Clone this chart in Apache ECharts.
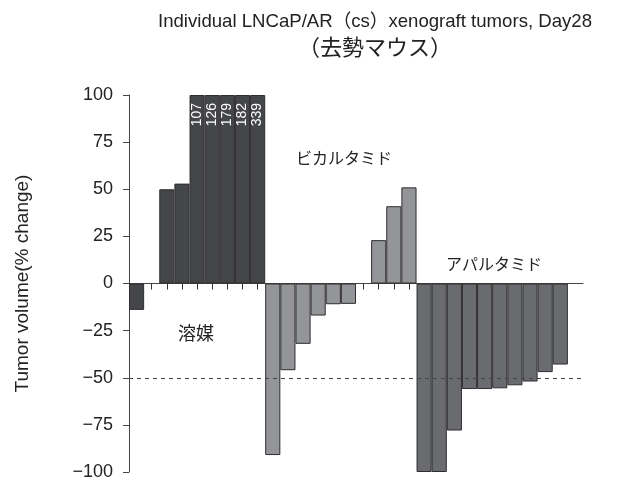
<!DOCTYPE html>
<html>
<head>
<meta charset="utf-8">
<script src="https://cdn.jsdelivr.net/npm/echarts@6/dist/echarts.min.js"></script>
<style>
  html, body { margin: 0; padding: 0; background: #fff; }
  #main { width: 619px; height: 482px; }
</style>
</head>
<body>
<div id="main"></div>
<script>
// 30 slots along x, one per tumor (two empty gaps and one spare slot at the end)
const categories = Array.from({ length: 30 }, (_, i) => String(i + 1));

// actual % change values; bars above 100 are drawn capped and labeled
const vehicle = [-14, null, 50, 53, 107, 126, 179, 182, 339];
const bicalutamide = [-91, -46, -32, -17, -11, -10.8, null, 23, 41, 51];
const apalutamide = [-100, -100, -78, -56, -56, -55.6, -54, -52, -47, -43];

const yTicks = [-100, -75, -50, -25, 0, 25, 50, 75, 100];
const groupNames = ['溶媒', 'ビカルタミド', 'アパルタミド'];

const FONT = '"Liberation Sans", Arial, "Noto Sans CJK JP", sans-serif';
const JP = '"Noto Sans CJK JP", sans-serif';

// place group values into their slots
function slotData(values, start) {
  const out = categories.map(() => null);
  values.forEach((v, i) => {
    if (v === null) return;
    if (v > 100) {
      out[start + i] = {
        value: 100,
        label: { show: true, formatter: String(v) }
      };
    } else {
      out[start + i] = v;
    }
  });
  return out;
}

const barStyle = (color) => ({ color: color, borderColor: '#2e2e30', borderWidth: 1 });

const myChart = echarts.init(document.getElementById('main'));
myChart.setOption({
  animation: false,
  backgroundColor: '#fff',
  title: {
    text: '{a|Individual LNCaP/AR（cs）xenograft tumors, Day28}\n{b|（去勢マウス）}',
    left: 370,
    top: 5,
    textAlign: 'center',
    textStyle: {
      fontWeight: 'normal',
      rich: {
        a: { fontFamily: FONT, fontSize: 18.6, fontWeight: 'normal', color: '#222', lineHeight: 24, align: 'center' },
        b: { fontFamily: JP, fontSize: 22, fontWeight: 'normal', color: '#222', lineHeight: 25, align: 'center' }
      }
    }
  },
  grid: { left: 129, right: 36, top: 95, bottom: 10, containLabel: false },
  xAxis: {
    type: 'category',
    data: categories,
    axisLine: { onZero: true, lineStyle: { color: '#444', width: 1 } },
    axisTick: {
      show: true,
      alignWithLabel: true,
      length: 6,
      // no tick under the spare last slot
      interval: function (index) { return index !== categories.length - 1; },
      lineStyle: { color: '#333', width: 1 }
    },
    axisLabel: { show: false, interval: 0 },
    splitLine: { show: false }
  },
  yAxis: {
    type: 'value',
    min: yTicks[0],
    max: yTicks[yTicks.length - 1],
    interval: 25,
    name: 'Tumor volume(% change)',
    nameLocation: 'middle',
    nameGap: 97,
    nameTextStyle: { fontFamily: FONT, fontSize: 19, color: '#222' },
    axisLine: { show: true, lineStyle: { color: '#444' } },
    axisTick: { show: true, length: 6, lineStyle: { color: '#444' } },
    axisLabel: {
      fontFamily: FONT,
      fontSize: 18,
      color: '#222',
      margin: 16,
      formatter: (v) => String(v).replace('-', '\u2212')
    },
    splitLine: { show: false }
  },
  series: [
    {
      name: groupNames[0],
      type: 'bar',
      barGap: '-100%',
      barCategoryGap: 0,
      data: slotData(vehicle, 0),
      itemStyle: barStyle('#454649'),
      label: {
        show: false,
        position: 'insideTop',
        rotate: 90,
        align: 'right',
        verticalAlign: 'middle',
        distance: 8,
        fontFamily: FONT,
        fontSize: 14,
        color: '#fff'
      },
      markLine: {
        silent: true,
        symbol: 'none',
        label: { show: false },
        lineStyle: { color: '#444', type: [4, 4], width: 1 },
        data: [{ yAxis: -50 }]
      }
    },
    {
      name: groupNames[1],
      type: 'bar',
      barGap: '-100%',
      barCategoryGap: 0,
      data: slotData(bicalutamide, 9),
      itemStyle: barStyle('#949598')
    },
    {
      name: groupNames[2],
      type: 'bar',
      barGap: '-100%',
      barCategoryGap: 0,
      data: slotData(apalutamide, 19),
      itemStyle: barStyle('#6a6b6f')
    }
  ],
  graphic: [
    { type: 'text', left: 178, top: 324, style: { text: groupNames[0], font: '18px ' + JP, fill: '#222' } },
    { type: 'text', left: 296, top: 150, style: { text: groupNames[1], font: '16px ' + JP, fill: '#222' } },
    { type: 'text', left: 446, top: 256, style: { text: groupNames[2], font: '16px ' + JP, fill: '#222' } }
  ]
});
</script>
</body>
</html>
